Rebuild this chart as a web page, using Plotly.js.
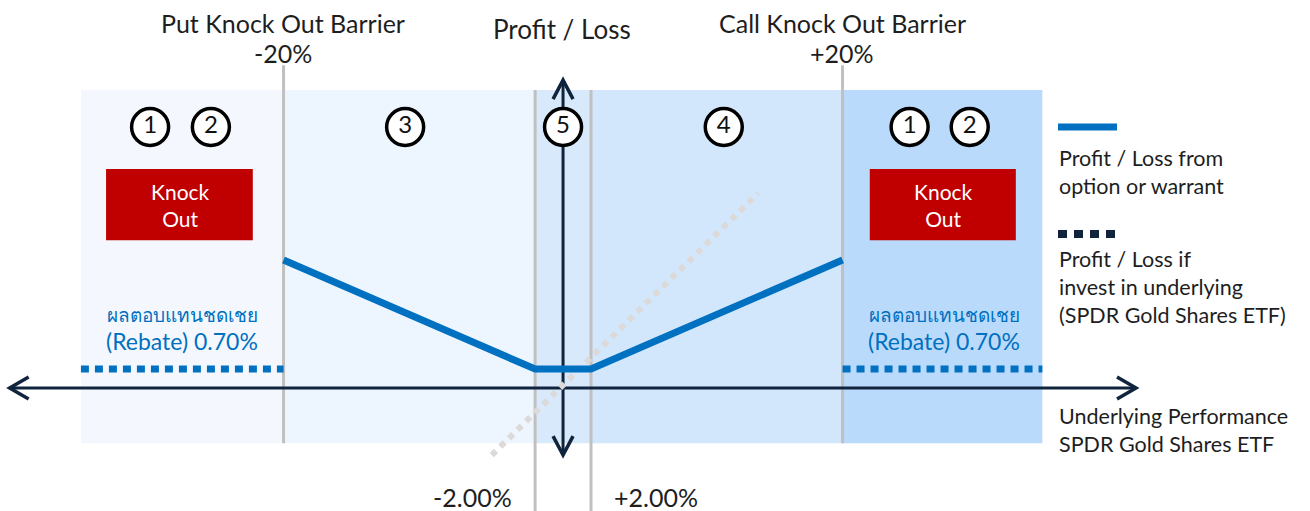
<!DOCTYPE html>
<html><head><meta charset="utf-8">
<script src="https://cdn.plot.ly/plotly-3.0.1.min.js"></script>
<style>html,body{margin:0;padding:0;background:#fff;}</style>
</head><body><div id="chart" style="width:1310px;height:511px;"></div>
<script>
// ---- data (schematic payoff diagram, x = underlying performance %) ----
const barrierLevels = [-20, 20];
const strikeLevels = [-2, 2];
const zoneEdges = [-34.5, -20, -2, 2, 20, 34.3];
const zoneColors = ['#f4f8fe', '#edf5fe', '#d9e9fc', '#d2e6fc', '#badafc'];
const payoffX = [-20, -2, 2, 20];
const payoffY = [4.72, 0.7, 0.7, 4.72];
const rebateLevel = 0.7;
const underlyingX = [-5.1, 13.95];
const underlyingY = [-2.47, 7.18];
const zoneLabelText = ['1', '2', '3', '5', '4', '1', '2'];
const zoneLabelX = [-29.55, -25.2, -11.3, 0, 11.5, 24.8, 29.1];
const zoneLabelY = 9.62;
const knockOutBoxes = [[-32.7, -22.2], [21.95, 32.4]];

const FONT = 'Lato, "Noto Sans", "DejaVu Sans", sans-serif';
const W = 1310, H = 511;
const px = v => v / W;
const py = v => 1 - v / H;
const NAVY = '#10243e', BLUE = '#0070c0', GRAY = '#c0c0c0', TXT = '#1e1e1e';

const shapes = [];
// zones
for (let i = 0; i < zoneColors.length; i++) {
  shapes.push({type:'rect', xref:'x', yref:'y', x0:zoneEdges[i], x1:zoneEdges[i+1], y0:-2.03, y1:10.98,
    fillcolor:zoneColors[i], line:{width:0}, layer:'below'});
}
// barrier lines
barrierLevels.forEach(b => shapes.push({type:'line', xref:'x', yref:'y', x0:b, x1:b, y0:-2.03, y1:11.9, layer:'below', line:{color:GRAY, width:3}}));
strikeLevels.forEach(s => shapes.push({type:'line', xref:'x', yref:'y', x0:s, x1:s, y0:-4.6, y1:10.98, layer:'below', line:{color:GRAY, width:3}}));
// axes
shapes.push({type:'line', xref:'x', yref:'y', x0:-39.6, x1:41.0, y0:0, y1:0, layer:'below', line:{color:NAVY, width:3}});
shapes.push({type:'line', xref:'x', yref:'y', x0:0, x1:0, y0:-2.47, y1:11.35, layer:'below', line:{color:NAVY, width:3}});
// arrow heads
const head = (xa, ya, path) => ({type:'path', xref:'x', yref:'y', xsizemode:'pixel', ysizemode:'pixel',
  xanchor:xa, yanchor:ya, path:path, layer:'below', line:{color:NAVY, width:3.5}});
shapes.push(head(-39.6, 0, 'M 19 11 L 0 0 L 19 -11'));
shapes.push(head(41.0, 0, 'M -19 11 L 0 0 L -19 -11'));
shapes.push(head(0, 11.35, 'M -10 -19 L 0 0 L 10 -19'));
shapes.push(head(0, -2.47, 'M -10 19 L 0 0 L 10 19'));
// knock out boxes
knockOutBoxes.forEach(b => shapes.push({type:'rect', xref:'x', yref:'y', x0:b[0], x1:b[1], y0:5.45, y1:8.07,
  fillcolor:'#c00000', line:{width:0}}));
// legend samples
shapes.push({type:'line', xref:'paper', yref:'paper', x0:px(1058), x1:px(1117), y0:py(127), y1:py(127), line:{color:BLUE, width:7}});
shapes.push({type:'line', xref:'paper', yref:'paper', x0:px(1058), x1:px(1120), y0:py(234), y1:py(234), line:{color:NAVY, width:8, dash:'9px,7px'}});

const traces = [
  {x:underlyingX, y:underlyingY, mode:'lines', line:{color:'#dcdad8', width:6, dash:'6px,6px'}, hoverinfo:'skip'},
  {x:[zoneEdges[0], barrierLevels[0]], y:[rebateLevel, rebateLevel], mode:'lines', line:{color:BLUE, width:7, dash:'8px,6px'}, hoverinfo:'skip'},
  {x:[barrierLevels[1], zoneEdges[5]], y:[rebateLevel, rebateLevel], mode:'lines', line:{color:BLUE, width:7, dash:'8px,6px'}, hoverinfo:'skip'},
  {x:payoffX, y:payoffY, mode:'lines', line:{color:BLUE, width:7}, hoverinfo:'skip'},
  {x:zoneLabelX, y:zoneLabelText.map(() => zoneLabelY), mode:'markers+text', text:zoneLabelText,
   textposition:'middle center', textfont:{family:FONT, size:24, color:'#111'},
   marker:{symbol:'circle', size:37, color:'#fff', line:{color:'#000', width:3.5}}, hoverinfo:'skip'}
];

const ann = (text, x, y, opts) => Object.assign({text, x, y, xref:'paper', yref:'paper', showarrow:false,
  xanchor:'center', yanchor:'middle', font:{family:FONT, size:25, color:TXT}}, opts || {});
const annotations = [
  ann('Put Knock Out Barrier', px(283), py(23)),
  ann('-20%', px(283), py(53)),
  ann('Profit / Loss', px(562), py(29), {font:{family:FONT, size:26, color:TXT}}),
  ann('Call Knock Out Barrier', px(842), py(23)),
  ann('+20%', px(842), py(53)),
  ann('-2.00%', px(514), py(497), {xanchor:'right', font:{family:FONT, size:25, color:TXT}}),
  ann('+2.00%', px(612), py(497), {xanchor:'left', font:{family:FONT, size:25, color:TXT}}),
  ann('ผลตอบแทนชดเชย', px(182), py(314), {font:{family:FONT, size:19, color:BLUE}}),
  ann('(Rebate) 0.70%', px(182), py(341), {font:{family:FONT, size:23, color:BLUE}}),
  ann('ผลตอบแทนชดเชย', px(944), py(314), {font:{family:FONT, size:19, color:BLUE}}),
  ann('(Rebate) 0.70%', px(944), py(341), {font:{family:FONT, size:23, color:BLUE}}),
  ann('Knock<br>Out', px(180), py(205), {font:{family:FONT, size:21, color:'#fff'}}),
  ann('Knock<br>Out', px(943), py(205), {font:{family:FONT, size:21, color:'#fff'}}),
];
const legendBlocks = [
  ['Profit / Loss from<br>option or warrant', 172],
  ['Profit / Loss if<br>invest in underlying<br>(SPDR Gold Shares ETF)', 287],
  ['Underlying Performance<br>SPDR Gold Shares ETF', 430]
];
legendBlocks.forEach(l => annotations.push(ann(l[0], px(1057), py(l[1]), {xanchor:'left', align:'left', font:{family:FONT, size:21.5, color:TXT}})));

const layout = {
  width:W, height:H, margin:{l:0, r:0, t:0, b:0}, showlegend:false,
  paper_bgcolor:'#fff', plot_bgcolor:'rgba(0,0,0,0)',
  xaxis:{range:[-40.29, 53.45], visible:false, fixedrange:true},
  yaxis:{range:[-4.53, 14.30], visible:false, fixedrange:true},
  shapes, annotations
};
Plotly.newPlot('chart', traces, layout, {displayModeBar:false, staticPlot:true});
</script></body></html>
